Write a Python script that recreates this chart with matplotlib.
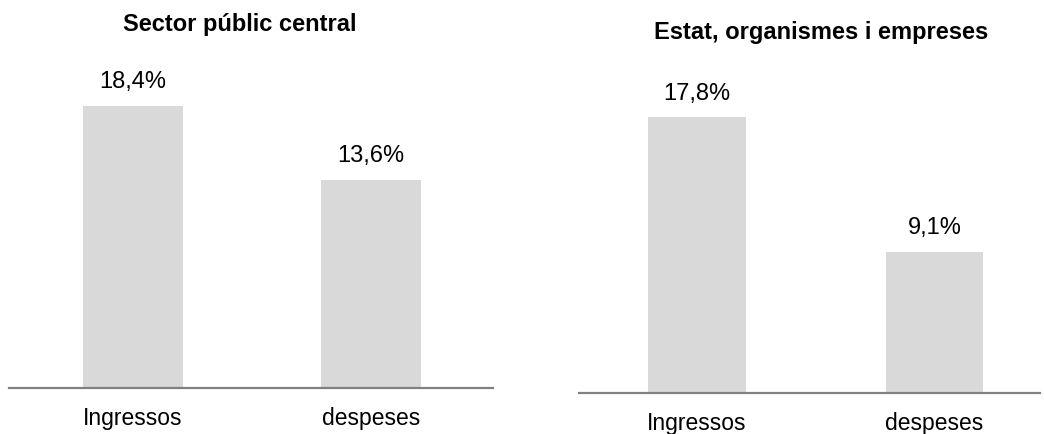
import matplotlib.pyplot as plt

categories = ["Ingressos", "despeses"]
central = [18.4, 13.6]
estat = [17.8, 9.1]
titles = ["Sector públic central", "Estat, organismes i empreses"]

plt.rcParams['font.family'] = ['Liberation Sans', 'DejaVu Sans']

W, H = 1044, 434
fig = plt.figure(figsize=(W / 100, H / 100), dpi=100)


def panel(x0, x1, base, xl, yscale, vals, width):
	# axes placed in pixel units, y scale in px per percentage point
	ax = fig.add_axes([x0 / W, (H - base) / H, (x1 - x0) / W, base / H])
	ax.bar(range(len(vals)), vals, width=width, color='#d9d9d9')
	ax.set_xlim(xl)
	ax.set_ylim(0, base / yscale)
	for s in ['top', 'left', 'right']:
		ax.spines[s].set_visible(False)
	ax.spines['bottom'].set_color('#808080')
	ax.spines['bottom'].set_linewidth(1.6)
	ax.set_yticks([])
	ax.set_xticks(range(len(vals)))
	ax.set_xticklabels(categories, fontsize=16.5)
	ax.tick_params(axis='x', length=0, pad=14)
	for i, v in enumerate(vals):
		ax.annotate(("%.1f%%" % v).replace('.', ','), (i, v), xytext=(0, 9),
					textcoords='offset points', ha='center', va='bottom', fontsize=17)
	return ax


ax1 = panel(9, 493, 388, (-0.521, 1.513), 15.33, central, 0.42)
fig.text(240 / W, 1 - 25 / H, titles[0], ha='center', va='center', fontsize=17, fontweight='bold')

ax2 = panel(579, 1040, 393, (-0.497, 1.444), 15.5, estat, 0.41)
fig.text(821 / W, 1 - 32 / H, titles[1], ha='center', va='center', fontsize=17, fontweight='bold')

fig.savefig('out.png', dpi=100)
